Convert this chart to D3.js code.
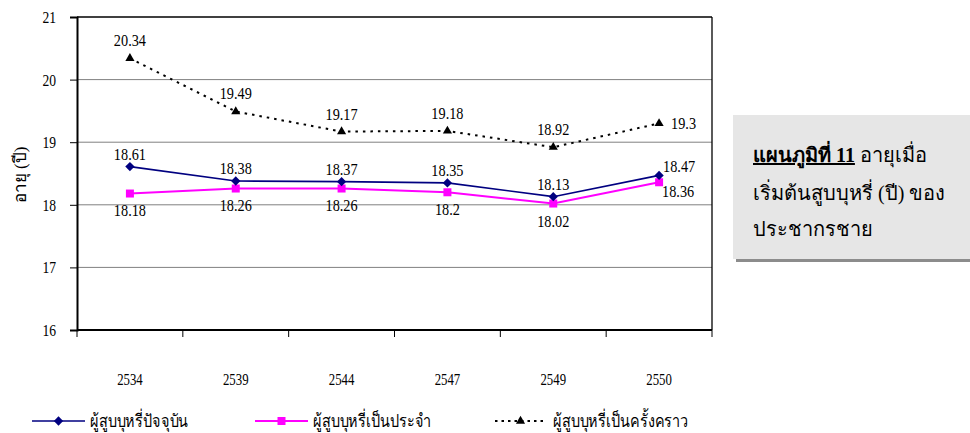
<!DOCTYPE html>
<html>
<head>
<meta charset="utf-8">
<script src="https://cdn.jsdelivr.net/npm/d3@7"></script>
<style>
  html, body { margin: 0; padding: 0; background: #fff; }
</style>
</head>
<body>
<svg id="chart" width="970" height="433"></svg>
<script>
// ---- data ----
const years = ["2534", "2539", "2544", "2547", "2549", "2550"];
const currentSmokers = [18.61, 18.38, 18.37, 18.35, 18.13, 18.47];
const regularSmokers = [18.18, 18.26, 18.26, 18.2, 18.02, 18.36];
const occasionalSmokers = [20.34, 19.49, 19.17, 19.18, 18.92, 19.3];
const yTicks = [16, 17, 18, 19, 20, 21];
const seriesNames = ["ผู้สูบบุหรี่ปัจจุบัน", "ผู้สูบบุหรี่เป็นประจำ", "ผู้สูบบุหรี่เป็นครั้งคราว"];
const yTitle = "อายุ (ปี)";
const boxTitleBold = "แผนภูมิที่ 11";
const boxLines = [" อายุเมื่อ", "เริ่มต้นสูบบุหรี่ (ปี) ของ", "ประชากรชาย"];

const FONT = "'Liberation Serif', 'Times New Roman', serif";
const SQUEEZE = 0.82; // the reference uses a narrow Times face

const svg = d3.select("#chart");
const plot = { left: 77, right: 712, top: 17, bottom: 330 };

const x = d3.scaleBand().domain(years).range([plot.left, plot.right]).paddingInner(0).paddingOuter(0);
const y = d3.scaleLinear().domain([16, 21]).range([plot.bottom, plot.top]);
const cx = d => x(d) + x.bandwidth() / 2;

// helper: horizontally condensed text
function ctext(parent, px, py, str, size, anchor, sx) {
  const g = parent.append("g").attr("transform", `translate(${px},${py})`);
  return g.append("text").attr("transform", `scale(${sx === undefined ? SQUEEZE : sx},1)`)
    .attr("text-anchor", anchor || "middle").attr("dominant-baseline", "central")
    .attr("font-size", size).style("font-family", FONT).attr("fill", "#000").text(str);
}

// gridlines
svg.append("g").selectAll("line").data(yTicks.filter(t => t > 16 && t < 21)).join("line")
  .attr("x1", plot.left).attr("x2", plot.right)
  .attr("y1", d => y(d)).attr("y2", d => y(d))
  .attr("stroke", "#808080").attr("stroke-width", 1);

// frame: top and right borders
svg.append("line").attr("x1", plot.left).attr("x2", plot.right).attr("y1", y(21)).attr("y2", y(21))
  .attr("stroke", "#000").attr("stroke-width", 1.6);
svg.append("line").attr("x1", plot.right).attr("x2", plot.right).attr("y1", y(21)).attr("y2", y(16))
  .attr("stroke", "#000").attr("stroke-width", 1.3);

// y axis
const yAxis = d3.axisLeft(y).tickValues(yTicks).tickSize(7).tickFormat("");
const gy = svg.append("g").attr("transform", `translate(${plot.left},0)`).call(yAxis);
gy.select(".domain").attr("stroke", "#000").attr("stroke-width", 2);
gy.selectAll(".tick line").attr("stroke", "#000").attr("stroke-width", 1);
yTicks.forEach(t => ctext(svg, 56, y(t), d3.format("d")(t), 17, "end", 0.8));

// x axis (ticks at band boundaries)
const gx = svg.append("g").attr("transform", `translate(0,${plot.bottom})`);
gx.append("line").attr("x1", plot.left).attr("x2", plot.right).attr("y1", 0).attr("y2", 0)
  .attr("stroke", "#000").attr("stroke-width", 2);
const boundaries = years.map(d => x(d)).concat([plot.right]);
gx.selectAll("line.tk").data(boundaries).join("line").attr("class", "tk")
  .attr("x1", d => d).attr("x2", d => d).attr("y1", 0).attr("y2", 7)
  .attr("stroke", "#000").attr("stroke-width", 1);
years.forEach(d => ctext(svg, cx(d), plot.bottom + 49, d, 16, "middle", 0.8));

// y title
const yt = svg.append("g").attr("transform", "translate(20,175) rotate(-90)");
yt.append("text").attr("text-anchor", "middle").attr("dominant-baseline", "central")
  .attr("font-size", 17).style("font-family", FONT).text(yTitle);

// lines
const line = d3.line().x((d, i) => cx(years[i])).y(d => y(d));
svg.append("path").datum(regularSmokers).attr("d", line).attr("fill", "none")
  .attr("stroke", "#FF00FF").attr("stroke-width", 2);
svg.append("path").datum(currentSmokers).attr("d", line).attr("fill", "none")
  .attr("stroke", "#000080").attr("stroke-width", 1.6);
svg.append("path").datum(occasionalSmokers).attr("d", line).attr("fill", "none")
  .attr("stroke", "#000").attr("stroke-width", 2).attr("stroke-dasharray", "2.5,5");

// markers
const diamond = d3.symbol().type(d3.symbolDiamond2).size(55);
const square = d3.symbol().type(d3.symbolSquare).size(64);
const triangle = d3.symbol().type(d3.symbolTriangle2).size(60);

function drawMarkers(data, sym, color) {
  svg.append("g").selectAll("path").data(data).join("path")
    .attr("transform", (d, i) => `translate(${cx(years[i])},${y(d)})`)
    .attr("d", sym).attr("fill", color);
}
drawMarkers(regularSmokers, square, "#FF00FF");
drawMarkers(currentSmokers, diamond, "#000080");
drawMarkers(occasionalSmokers, triangle, "#000");

// data labels
const last = years.length - 1;
function drawLabels(data, dy, lastDx, lastDy) {
  const g = svg.append("g");
  data.forEach((d, i) => {
    const isLast = i === last;
    ctext(g, cx(years[i]) + (isLast ? lastDx : 0), y(d) + (isLast ? lastDy : dy),
      String(d), 17, isLast ? "start" : "middle", 0.84);
  });
}
drawLabels(currentSmokers, -13, 4, -9);
drawLabels(regularSmokers, 17, 3, 9);
drawLabels(occasionalSmokers, -18, 12, 0);

// legend
const legendY = 421;
const legendItems = [
  { x0: 32, x1: 85, tx: 90, color: "#000080", sym: diamond, dash: null, w: 1.6 },
  { x0: 255, x1: 308, tx: 313, color: "#FF00FF", sym: square, dash: null, w: 2 },
  { x0: 495, x1: 546, tx: 553, color: "#000", sym: triangle, dash: "2.5,4", w: 2 }
];
const lg = svg.append("g");
legendItems.forEach((it, i) => {
  lg.append("line").attr("x1", it.x0).attr("x2", it.x1).attr("y1", legendY).attr("y2", legendY)
    .attr("stroke", it.color).attr("stroke-width", it.w).attr("stroke-dasharray", it.dash);
  lg.append("path").attr("transform", `translate(${(it.x0 + it.x1) / 2},${legendY})`)
    .attr("d", it.sym).attr("fill", it.color);
  ctext(lg, it.tx, legendY, seriesNames[i], 18, "start", 0.8);
});

// caption box
const box = svg.append("g");
box.append("rect").attr("x", 736).attr("y", 118).attr("width", 240).attr("height", 144).attr("fill", "#8c8c8c");
box.append("rect").attr("x", 733).attr("y", 115).attr("width", 240).attr("height", 144).attr("fill", "#e6e6e6");
const t1 = box.append("text").attr("x", 753).attr("y", 162).attr("font-size", 20).style("font-family", FONT);
t1.append("tspan").attr("font-weight", "bold").attr("text-decoration", "underline").text(boxTitleBold);
t1.append("tspan").text(boxLines[0]);
box.append("text").attr("x", 753).attr("y", 200).attr("font-size", 20).style("font-family", FONT).text(boxLines[1]);
box.append("text").attr("x", 753).attr("y", 236).attr("font-size", 20).style("font-family", FONT).text(boxLines[2]);
</script>
</body>
</html>
